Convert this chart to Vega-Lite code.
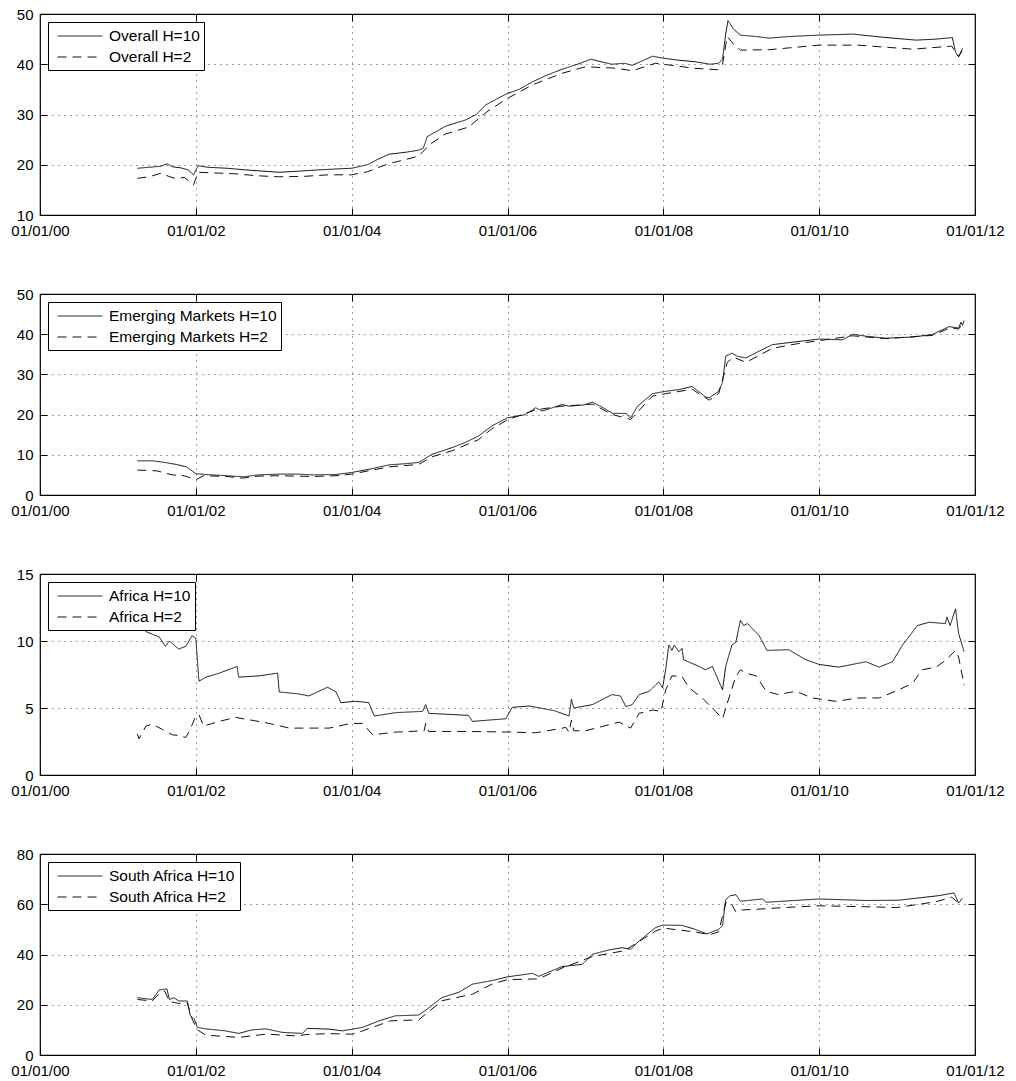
{
  "$schema": "https://vega.github.io/schema/vega-lite/v6.json",
  "padding": {"left": 10, "top": 6, "right": 5, "bottom": 5},
  "background": "white",
  "spacing": 79,
  "bounds": "flush",
  "config": {
    "view": {"stroke": "#000", "strokeWidth": 1.2},
    "font": "Liberation Sans",
    "axis": {"labelFont": "Liberation Sans", "labelFontSize": 15, "labelColor": "#000", "title": null, "domain": false, "tickColor": "#000", "tickSize": -7, "tickWidth": 1, "gridColor": "#000", "gridDash": [1, 5], "gridOpacity": 0.75, "gridWidth": 1, "labelOverlap": false, "labelFlush": false},
    "legend": {"title": null, "orient": "top-left", "offset": 8, "fillColor": "#fff", "strokeColor": "#000", "padding": 4, "symbolType": "M-0.47,0H4.26", "symbolSize": 361, "symbolStrokeWidth": 1, "symbolStrokeColor": "#111", "labelFont": "Liberation Sans", "labelFontSize": 15.5, "labelColor": "#000", "labelOffset": 37, "rowPadding": 2, "labelLimit": 400, "cornerRadius": 0}
  },
  "resolve": {"scale": {"y": "independent", "strokeDash": "independent"}, "legend": {"strokeDash": "independent"}},
  "datasets": {
    "overall": [
      {"series": "Overall H=10", "year": 2001.25, "value": 19.3},
      {"series": "Overall H=10", "year": 2001.40, "value": 19.5},
      {"series": "Overall H=10", "year": 2001.55, "value": 19.7},
      {"series": "Overall H=10", "year": 2001.63, "value": 20.2},
      {"series": "Overall H=10", "year": 2001.70, "value": 19.6},
      {"series": "Overall H=10", "year": 2001.80, "value": 19.4},
      {"series": "Overall H=10", "year": 2001.90, "value": 19.0},
      {"series": "Overall H=10", "year": 2001.97, "value": 18.0},
      {"series": "Overall H=10", "year": 2002.03, "value": 19.8},
      {"series": "Overall H=10", "year": 2002.15, "value": 19.5},
      {"series": "Overall H=10", "year": 2002.40, "value": 19.3},
      {"series": "Overall H=10", "year": 2002.70, "value": 18.9},
      {"series": "Overall H=10", "year": 2003.07, "value": 18.5},
      {"series": "Overall H=10", "year": 2003.30, "value": 18.7},
      {"series": "Overall H=10", "year": 2003.60, "value": 19.0},
      {"series": "Overall H=10", "year": 2003.85, "value": 19.2},
      {"series": "Overall H=10", "year": 2004.00, "value": 19.3},
      {"series": "Overall H=10", "year": 2004.20, "value": 20.0},
      {"series": "Overall H=10", "year": 2004.35, "value": 21.2},
      {"series": "Overall H=10", "year": 2004.48, "value": 22.1},
      {"series": "Overall H=10", "year": 2004.70, "value": 22.5},
      {"series": "Overall H=10", "year": 2004.86, "value": 22.9},
      {"series": "Overall H=10", "year": 2004.92, "value": 23.3},
      {"series": "Overall H=10", "year": 2004.97, "value": 25.6},
      {"series": "Overall H=10", "year": 2005.21, "value": 27.7},
      {"series": "Overall H=10", "year": 2005.46, "value": 28.9},
      {"series": "Overall H=10", "year": 2005.60, "value": 30.0},
      {"series": "Overall H=10", "year": 2005.72, "value": 31.9},
      {"series": "Overall H=10", "year": 2005.85, "value": 33.0},
      {"series": "Overall H=10", "year": 2006.00, "value": 34.2},
      {"series": "Overall H=10", "year": 2006.15, "value": 35.0},
      {"series": "Overall H=10", "year": 2006.32, "value": 36.5},
      {"series": "Overall H=10", "year": 2006.50, "value": 37.8},
      {"series": "Overall H=10", "year": 2006.70, "value": 39.0},
      {"series": "Overall H=10", "year": 2006.90, "value": 40.0},
      {"series": "Overall H=10", "year": 2007.07, "value": 41.0},
      {"series": "Overall H=10", "year": 2007.20, "value": 40.5},
      {"series": "Overall H=10", "year": 2007.34, "value": 40.0},
      {"series": "Overall H=10", "year": 2007.50, "value": 40.2},
      {"series": "Overall H=10", "year": 2007.60, "value": 39.8},
      {"series": "Overall H=10", "year": 2007.75, "value": 40.8},
      {"series": "Overall H=10", "year": 2007.86, "value": 41.6},
      {"series": "Overall H=10", "year": 2008.00, "value": 41.2},
      {"series": "Overall H=10", "year": 2008.20, "value": 40.8},
      {"series": "Overall H=10", "year": 2008.41, "value": 40.5},
      {"series": "Overall H=10", "year": 2008.60, "value": 40.0},
      {"series": "Overall H=10", "year": 2008.71, "value": 40.2},
      {"series": "Overall H=10", "year": 2008.76, "value": 41.0},
      {"series": "Overall H=10", "year": 2008.80, "value": 46.0},
      {"series": "Overall H=10", "year": 2008.83, "value": 48.7},
      {"series": "Overall H=10", "year": 2008.90, "value": 47.0},
      {"series": "Overall H=10", "year": 2008.99, "value": 45.8},
      {"series": "Overall H=10", "year": 2009.20, "value": 45.5},
      {"series": "Overall H=10", "year": 2009.36, "value": 45.2},
      {"series": "Overall H=10", "year": 2009.60, "value": 45.5},
      {"series": "Overall H=10", "year": 2010.00, "value": 45.8},
      {"series": "Overall H=10", "year": 2010.43, "value": 46.0},
      {"series": "Overall H=10", "year": 2010.80, "value": 45.4},
      {"series": "Overall H=10", "year": 2011.24, "value": 44.8},
      {"series": "Overall H=10", "year": 2011.50, "value": 45.0},
      {"series": "Overall H=10", "year": 2011.71, "value": 45.3},
      {"series": "Overall H=10", "year": 2011.75, "value": 42.4},
      {"series": "Overall H=10", "year": 2011.79, "value": 41.5},
      {"series": "Overall H=10", "year": 2011.84, "value": 43.2},
      {"series": "Overall H=2", "year": 2001.25, "value": 17.3},
      {"series": "Overall H=2", "year": 2001.40, "value": 17.6},
      {"series": "Overall H=2", "year": 2001.55, "value": 18.3},
      {"series": "Overall H=2", "year": 2001.65, "value": 17.7},
      {"series": "Overall H=2", "year": 2001.75, "value": 17.2},
      {"series": "Overall H=2", "year": 2001.85, "value": 17.5},
      {"series": "Overall H=2", "year": 2001.97, "value": 16.0},
      {"series": "Overall H=2", "year": 2002.03, "value": 18.5},
      {"series": "Overall H=2", "year": 2002.20, "value": 18.4},
      {"series": "Overall H=2", "year": 2002.50, "value": 18.2},
      {"series": "Overall H=2", "year": 2002.80, "value": 17.8},
      {"series": "Overall H=2", "year": 2003.07, "value": 17.6},
      {"series": "Overall H=2", "year": 2003.40, "value": 17.7},
      {"series": "Overall H=2", "year": 2003.70, "value": 18.0},
      {"series": "Overall H=2", "year": 2004.00, "value": 18.0},
      {"series": "Overall H=2", "year": 2004.20, "value": 18.6},
      {"series": "Overall H=2", "year": 2004.35, "value": 19.5},
      {"series": "Overall H=2", "year": 2004.50, "value": 20.3},
      {"series": "Overall H=2", "year": 2004.86, "value": 21.7},
      {"series": "Overall H=2", "year": 2005.00, "value": 24.0},
      {"series": "Overall H=2", "year": 2005.20, "value": 26.1},
      {"series": "Overall H=2", "year": 2005.50, "value": 27.5},
      {"series": "Overall H=2", "year": 2005.75, "value": 30.7},
      {"series": "Overall H=2", "year": 2006.00, "value": 33.2},
      {"series": "Overall H=2", "year": 2006.32, "value": 35.9},
      {"series": "Overall H=2", "year": 2006.70, "value": 38.2},
      {"series": "Overall H=2", "year": 2007.00, "value": 39.5},
      {"series": "Overall H=2", "year": 2007.40, "value": 39.2},
      {"series": "Overall H=2", "year": 2007.60, "value": 38.7},
      {"series": "Overall H=2", "year": 2007.90, "value": 40.2},
      {"series": "Overall H=2", "year": 2008.00, "value": 40.0},
      {"series": "Overall H=2", "year": 2008.40, "value": 39.2},
      {"series": "Overall H=2", "year": 2008.70, "value": 38.9},
      {"series": "Overall H=2", "year": 2008.76, "value": 40.0},
      {"series": "Overall H=2", "year": 2008.82, "value": 45.5},
      {"series": "Overall H=2", "year": 2008.90, "value": 44.0},
      {"series": "Overall H=2", "year": 2008.99, "value": 42.8},
      {"series": "Overall H=2", "year": 2009.36, "value": 42.9},
      {"series": "Overall H=2", "year": 2010.00, "value": 43.8},
      {"series": "Overall H=2", "year": 2010.50, "value": 43.8},
      {"series": "Overall H=2", "year": 2011.20, "value": 43.0},
      {"series": "Overall H=2", "year": 2011.70, "value": 43.6},
      {"series": "Overall H=2", "year": 2011.75, "value": 42.5},
      {"series": "Overall H=2", "year": 2011.79, "value": 41.5},
      {"series": "Overall H=2", "year": 2011.84, "value": 42.8}
    ],
    "em": [
      {"series": "Emerging Markets H=10", "year": 2001.25, "value": 8.5},
      {"series": "Emerging Markets H=10", "year": 2001.45, "value": 8.5},
      {"series": "Emerging Markets H=10", "year": 2001.60, "value": 8.1},
      {"series": "Emerging Markets H=10", "year": 2001.75, "value": 7.6},
      {"series": "Emerging Markets H=10", "year": 2001.88, "value": 7.0},
      {"series": "Emerging Markets H=10", "year": 2002.00, "value": 5.3},
      {"series": "Emerging Markets H=10", "year": 2002.20, "value": 5.0},
      {"series": "Emerging Markets H=10", "year": 2002.40, "value": 4.8},
      {"series": "Emerging Markets H=10", "year": 2002.60, "value": 4.5},
      {"series": "Emerging Markets H=10", "year": 2002.80, "value": 5.0},
      {"series": "Emerging Markets H=10", "year": 2003.07, "value": 5.2},
      {"series": "Emerging Markets H=10", "year": 2003.30, "value": 5.2},
      {"series": "Emerging Markets H=10", "year": 2003.50, "value": 5.0},
      {"series": "Emerging Markets H=10", "year": 2003.80, "value": 5.1},
      {"series": "Emerging Markets H=10", "year": 2004.00, "value": 5.6},
      {"series": "Emerging Markets H=10", "year": 2004.25, "value": 6.5},
      {"series": "Emerging Markets H=10", "year": 2004.48, "value": 7.5},
      {"series": "Emerging Markets H=10", "year": 2004.70, "value": 7.8},
      {"series": "Emerging Markets H=10", "year": 2004.86, "value": 8.1},
      {"series": "Emerging Markets H=10", "year": 2005.03, "value": 10.1},
      {"series": "Emerging Markets H=10", "year": 2005.29, "value": 11.8},
      {"series": "Emerging Markets H=10", "year": 2005.45, "value": 13.0},
      {"series": "Emerging Markets H=10", "year": 2005.63, "value": 14.7},
      {"series": "Emerging Markets H=10", "year": 2005.80, "value": 17.2},
      {"series": "Emerging Markets H=10", "year": 2006.00, "value": 19.2},
      {"series": "Emerging Markets H=10", "year": 2006.23, "value": 20.0},
      {"series": "Emerging Markets H=10", "year": 2006.36, "value": 21.7},
      {"series": "Emerging Markets H=10", "year": 2006.45, "value": 20.9},
      {"series": "Emerging Markets H=10", "year": 2006.70, "value": 22.5},
      {"series": "Emerging Markets H=10", "year": 2006.79, "value": 22.1},
      {"series": "Emerging Markets H=10", "year": 2006.98, "value": 22.4},
      {"series": "Emerging Markets H=10", "year": 2007.09, "value": 23.1},
      {"series": "Emerging Markets H=10", "year": 2007.20, "value": 22.0},
      {"series": "Emerging Markets H=10", "year": 2007.35, "value": 20.3},
      {"series": "Emerging Markets H=10", "year": 2007.52, "value": 20.3},
      {"series": "Emerging Markets H=10", "year": 2007.58, "value": 19.2},
      {"series": "Emerging Markets H=10", "year": 2007.67, "value": 22.1},
      {"series": "Emerging Markets H=10", "year": 2007.86, "value": 25.2},
      {"series": "Emerging Markets H=10", "year": 2008.03, "value": 25.8},
      {"series": "Emerging Markets H=10", "year": 2008.20, "value": 26.2},
      {"series": "Emerging Markets H=10", "year": 2008.37, "value": 27.0},
      {"series": "Emerging Markets H=10", "year": 2008.54, "value": 24.4},
      {"series": "Emerging Markets H=10", "year": 2008.59, "value": 24.2},
      {"series": "Emerging Markets H=10", "year": 2008.71, "value": 25.8},
      {"series": "Emerging Markets H=10", "year": 2008.76, "value": 28.0},
      {"series": "Emerging Markets H=10", "year": 2008.80, "value": 34.5},
      {"series": "Emerging Markets H=10", "year": 2008.88, "value": 35.3},
      {"series": "Emerging Markets H=10", "year": 2008.95, "value": 34.5},
      {"series": "Emerging Markets H=10", "year": 2009.06, "value": 34.1},
      {"series": "Emerging Markets H=10", "year": 2009.20, "value": 35.5},
      {"series": "Emerging Markets H=10", "year": 2009.40, "value": 37.4},
      {"series": "Emerging Markets H=10", "year": 2009.74, "value": 38.2},
      {"series": "Emerging Markets H=10", "year": 2010.00, "value": 38.8},
      {"series": "Emerging Markets H=10", "year": 2010.30, "value": 38.6},
      {"series": "Emerging Markets H=10", "year": 2010.43, "value": 40.0},
      {"series": "Emerging Markets H=10", "year": 2010.60, "value": 39.5},
      {"series": "Emerging Markets H=10", "year": 2010.85, "value": 39.0},
      {"series": "Emerging Markets H=10", "year": 2011.20, "value": 39.3},
      {"series": "Emerging Markets H=10", "year": 2011.45, "value": 39.9},
      {"series": "Emerging Markets H=10", "year": 2011.67, "value": 41.9},
      {"series": "Emerging Markets H=10", "year": 2011.79, "value": 41.5},
      {"series": "Emerging Markets H=10", "year": 2011.82, "value": 43.0},
      {"series": "Emerging Markets H=10", "year": 2011.84, "value": 42.2},
      {"series": "Emerging Markets H=10", "year": 2011.86, "value": 43.4},
      {"series": "Emerging Markets H=2", "year": 2001.25, "value": 6.2},
      {"series": "Emerging Markets H=2", "year": 2001.50, "value": 6.0},
      {"series": "Emerging Markets H=2", "year": 2001.70, "value": 5.0},
      {"series": "Emerging Markets H=2", "year": 2001.85, "value": 4.8},
      {"series": "Emerging Markets H=2", "year": 2002.00, "value": 3.8},
      {"series": "Emerging Markets H=2", "year": 2002.10, "value": 4.8},
      {"series": "Emerging Markets H=2", "year": 2002.40, "value": 4.6},
      {"series": "Emerging Markets H=2", "year": 2002.60, "value": 4.2},
      {"series": "Emerging Markets H=2", "year": 2002.80, "value": 4.7},
      {"series": "Emerging Markets H=2", "year": 2003.07, "value": 4.8},
      {"series": "Emerging Markets H=2", "year": 2003.50, "value": 4.6},
      {"series": "Emerging Markets H=2", "year": 2003.80, "value": 4.8},
      {"series": "Emerging Markets H=2", "year": 2004.00, "value": 5.2},
      {"series": "Emerging Markets H=2", "year": 2004.48, "value": 7.0},
      {"series": "Emerging Markets H=2", "year": 2004.86, "value": 7.6},
      {"series": "Emerging Markets H=2", "year": 2005.03, "value": 9.5},
      {"series": "Emerging Markets H=2", "year": 2005.29, "value": 11.0},
      {"series": "Emerging Markets H=2", "year": 2005.63, "value": 13.8},
      {"series": "Emerging Markets H=2", "year": 2005.80, "value": 16.5},
      {"series": "Emerging Markets H=2", "year": 2006.00, "value": 18.7},
      {"series": "Emerging Markets H=2", "year": 2006.36, "value": 21.2},
      {"series": "Emerging Markets H=2", "year": 2006.70, "value": 22.1},
      {"series": "Emerging Markets H=2", "year": 2007.09, "value": 22.6},
      {"series": "Emerging Markets H=2", "year": 2007.35, "value": 20.0},
      {"series": "Emerging Markets H=2", "year": 2007.58, "value": 18.8},
      {"series": "Emerging Markets H=2", "year": 2007.86, "value": 24.6},
      {"series": "Emerging Markets H=2", "year": 2008.03, "value": 25.2},
      {"series": "Emerging Markets H=2", "year": 2008.37, "value": 26.3},
      {"series": "Emerging Markets H=2", "year": 2008.59, "value": 23.6},
      {"series": "Emerging Markets H=2", "year": 2008.71, "value": 25.2},
      {"series": "Emerging Markets H=2", "year": 2008.82, "value": 33.0},
      {"series": "Emerging Markets H=2", "year": 2008.90, "value": 34.3},
      {"series": "Emerging Markets H=2", "year": 2009.06, "value": 33.0},
      {"series": "Emerging Markets H=2", "year": 2009.40, "value": 36.5},
      {"series": "Emerging Markets H=2", "year": 2009.74, "value": 37.7},
      {"series": "Emerging Markets H=2", "year": 2010.00, "value": 38.4},
      {"series": "Emerging Markets H=2", "year": 2010.43, "value": 39.6},
      {"series": "Emerging Markets H=2", "year": 2010.85, "value": 38.9},
      {"series": "Emerging Markets H=2", "year": 2011.45, "value": 39.7},
      {"series": "Emerging Markets H=2", "year": 2011.67, "value": 41.5},
      {"series": "Emerging Markets H=2", "year": 2011.79, "value": 41.3},
      {"series": "Emerging Markets H=2", "year": 2011.86, "value": 43.0}
    ],
    "africa": [
      {"series": "Africa H=10", "year": 2001.25, "value": 11.4},
      {"series": "Africa H=10", "year": 2001.36, "value": 10.7},
      {"series": "Africa H=10", "year": 2001.53, "value": 10.3},
      {"series": "Africa H=10", "year": 2001.61, "value": 9.6},
      {"series": "Africa H=10", "year": 2001.66, "value": 10.0},
      {"series": "Africa H=10", "year": 2001.70, "value": 9.8},
      {"series": "Africa H=10", "year": 2001.78, "value": 9.4},
      {"series": "Africa H=10", "year": 2001.87, "value": 9.6},
      {"series": "Africa H=10", "year": 2001.95, "value": 10.4},
      {"series": "Africa H=10", "year": 2002.00, "value": 10.2},
      {"series": "Africa H=10", "year": 2002.04, "value": 7.0},
      {"series": "Africa H=10", "year": 2002.13, "value": 7.3},
      {"series": "Africa H=10", "year": 2002.30, "value": 7.6},
      {"series": "Africa H=10", "year": 2002.53, "value": 8.1},
      {"series": "Africa H=10", "year": 2002.55, "value": 7.3},
      {"series": "Africa H=10", "year": 2002.81, "value": 7.4},
      {"series": "Africa H=10", "year": 2003.05, "value": 7.6},
      {"series": "Africa H=10", "year": 2003.07, "value": 6.2},
      {"series": "Africa H=10", "year": 2003.32, "value": 6.05},
      {"series": "Africa H=10", "year": 2003.45, "value": 5.9},
      {"series": "Africa H=10", "year": 2003.69, "value": 6.55},
      {"series": "Africa H=10", "year": 2003.80, "value": 6.2},
      {"series": "Africa H=10", "year": 2003.86, "value": 5.4},
      {"series": "Africa H=10", "year": 2004.05, "value": 5.5},
      {"series": "Africa H=10", "year": 2004.22, "value": 5.4},
      {"series": "Africa H=10", "year": 2004.29, "value": 4.4},
      {"series": "Africa H=10", "year": 2004.56, "value": 4.65},
      {"series": "Africa H=10", "year": 2004.91, "value": 4.75},
      {"series": "Africa H=10", "year": 2004.95, "value": 5.25},
      {"series": "Africa H=10", "year": 2004.99, "value": 4.6},
      {"series": "Africa H=10", "year": 2005.50, "value": 4.45},
      {"series": "Africa H=10", "year": 2005.55, "value": 4.0},
      {"series": "Africa H=10", "year": 2005.98, "value": 4.2},
      {"series": "Africa H=10", "year": 2006.06, "value": 5.05},
      {"series": "Africa H=10", "year": 2006.28, "value": 5.15},
      {"series": "Africa H=10", "year": 2006.60, "value": 4.8},
      {"series": "Africa H=10", "year": 2006.79, "value": 4.4},
      {"series": "Africa H=10", "year": 2006.82, "value": 5.65},
      {"series": "Africa H=10", "year": 2006.85, "value": 5.0},
      {"series": "Africa H=10", "year": 2007.09, "value": 5.25},
      {"series": "Africa H=10", "year": 2007.34, "value": 6.0},
      {"series": "Africa H=10", "year": 2007.45, "value": 5.9},
      {"series": "Africa H=10", "year": 2007.52, "value": 5.1},
      {"series": "Africa H=10", "year": 2007.60, "value": 5.25},
      {"series": "Africa H=10", "year": 2007.69, "value": 6.0},
      {"series": "Africa H=10", "year": 2007.82, "value": 6.25},
      {"series": "Africa H=10", "year": 2007.94, "value": 6.95},
      {"series": "Africa H=10", "year": 2007.99, "value": 6.5},
      {"series": "Africa H=10", "year": 2008.03, "value": 7.85},
      {"series": "Africa H=10", "year": 2008.07, "value": 9.7},
      {"series": "Africa H=10", "year": 2008.11, "value": 9.3},
      {"series": "Africa H=10", "year": 2008.14, "value": 9.7},
      {"series": "Africa H=10", "year": 2008.20, "value": 9.2},
      {"series": "Africa H=10", "year": 2008.24, "value": 9.45},
      {"series": "Africa H=10", "year": 2008.26, "value": 8.6},
      {"series": "Africa H=10", "year": 2008.46, "value": 8.1},
      {"series": "Africa H=10", "year": 2008.54, "value": 7.85},
      {"series": "Africa H=10", "year": 2008.63, "value": 8.1},
      {"series": "Africa H=10", "year": 2008.76, "value": 6.35},
      {"series": "Africa H=10", "year": 2008.80, "value": 8.1},
      {"series": "Africa H=10", "year": 2008.88, "value": 9.7},
      {"series": "Africa H=10", "year": 2008.93, "value": 9.9},
      {"series": "Africa H=10", "year": 2008.99, "value": 11.55},
      {"series": "Africa H=10", "year": 2009.03, "value": 11.15},
      {"series": "Africa H=10", "year": 2009.08, "value": 11.3},
      {"series": "Africa H=10", "year": 2009.23, "value": 10.4},
      {"series": "Africa H=10", "year": 2009.33, "value": 9.3},
      {"series": "Africa H=10", "year": 2009.61, "value": 9.35},
      {"series": "Africa H=10", "year": 2009.83, "value": 8.6},
      {"series": "Africa H=10", "year": 2010.00, "value": 8.25},
      {"series": "Africa H=10", "year": 2010.25, "value": 8.05},
      {"series": "Africa H=10", "year": 2010.60, "value": 8.45},
      {"series": "Africa H=10", "year": 2010.77, "value": 8.05},
      {"series": "Africa H=10", "year": 2010.94, "value": 8.45},
      {"series": "Africa H=10", "year": 2011.07, "value": 9.7},
      {"series": "Africa H=10", "year": 2011.15, "value": 10.3},
      {"series": "Africa H=10", "year": 2011.26, "value": 11.15},
      {"series": "Africa H=10", "year": 2011.41, "value": 11.4},
      {"series": "Africa H=10", "year": 2011.62, "value": 11.3},
      {"series": "Africa H=10", "year": 2011.64, "value": 11.8},
      {"series": "Africa H=10", "year": 2011.68, "value": 11.15},
      {"series": "Africa H=10", "year": 2011.75, "value": 12.4},
      {"series": "Africa H=10", "year": 2011.79, "value": 10.55},
      {"series": "Africa H=10", "year": 2011.86, "value": 9.2},
      {"series": "Africa H=2", "year": 2001.25, "value": 3.05},
      {"series": "Africa H=2", "year": 2001.27, "value": 2.7},
      {"series": "Africa H=2", "year": 2001.36, "value": 3.65},
      {"series": "Africa H=2", "year": 2001.44, "value": 3.8},
      {"series": "Africa H=2", "year": 2001.57, "value": 3.4},
      {"series": "Africa H=2", "year": 2001.70, "value": 3.0},
      {"series": "Africa H=2", "year": 2001.78, "value": 2.95},
      {"series": "Africa H=2", "year": 2001.87, "value": 2.8},
      {"series": "Africa H=2", "year": 2001.92, "value": 3.3},
      {"series": "Africa H=2", "year": 2002.00, "value": 4.4},
      {"series": "Africa H=2", "year": 2002.04, "value": 4.5},
      {"series": "Africa H=2", "year": 2002.10, "value": 3.65},
      {"series": "Africa H=2", "year": 2002.30, "value": 4.0},
      {"series": "Africa H=2", "year": 2002.51, "value": 4.3},
      {"series": "Africa H=2", "year": 2002.90, "value": 3.9},
      {"series": "Africa H=2", "year": 2003.20, "value": 3.5},
      {"series": "Africa H=2", "year": 2003.71, "value": 3.5},
      {"series": "Africa H=2", "year": 2003.99, "value": 3.85},
      {"series": "Africa H=2", "year": 2004.14, "value": 3.85},
      {"series": "Africa H=2", "year": 2004.27, "value": 3.0},
      {"series": "Africa H=2", "year": 2004.56, "value": 3.2},
      {"series": "Africa H=2", "year": 2004.93, "value": 3.3},
      {"series": "Africa H=2", "year": 2004.95, "value": 3.85},
      {"series": "Africa H=2", "year": 2004.99, "value": 3.25},
      {"series": "Africa H=2", "year": 2005.50, "value": 3.25},
      {"series": "Africa H=2", "year": 2006.06, "value": 3.2},
      {"series": "Africa H=2", "year": 2006.36, "value": 3.15},
      {"series": "Africa H=2", "year": 2006.66, "value": 3.45},
      {"series": "Africa H=2", "year": 2006.75, "value": 3.55},
      {"series": "Africa H=2", "year": 2006.79, "value": 3.2},
      {"series": "Africa H=2", "year": 2006.82, "value": 4.1},
      {"series": "Africa H=2", "year": 2006.85, "value": 3.3},
      {"series": "Africa H=2", "year": 2007.00, "value": 3.3},
      {"series": "Africa H=2", "year": 2007.30, "value": 3.75},
      {"series": "Africa H=2", "year": 2007.43, "value": 3.95},
      {"series": "Africa H=2", "year": 2007.58, "value": 3.5},
      {"series": "Africa H=2", "year": 2007.69, "value": 4.6},
      {"series": "Africa H=2", "year": 2007.86, "value": 4.85},
      {"series": "Africa H=2", "year": 2007.97, "value": 4.75},
      {"series": "Africa H=2", "year": 2008.03, "value": 6.35},
      {"series": "Africa H=2", "year": 2008.11, "value": 7.4},
      {"series": "Africa H=2", "year": 2008.24, "value": 7.35},
      {"series": "Africa H=2", "year": 2008.33, "value": 6.5},
      {"series": "Africa H=2", "year": 2008.50, "value": 5.75},
      {"series": "Africa H=2", "year": 2008.67, "value": 4.75},
      {"series": "Africa H=2", "year": 2008.76, "value": 4.2},
      {"series": "Africa H=2", "year": 2008.82, "value": 5.35},
      {"series": "Africa H=2", "year": 2008.93, "value": 7.35},
      {"series": "Africa H=2", "year": 2008.99, "value": 7.85},
      {"series": "Africa H=2", "year": 2009.06, "value": 7.6},
      {"series": "Africa H=2", "year": 2009.19, "value": 7.4},
      {"series": "Africa H=2", "year": 2009.32, "value": 6.25},
      {"series": "Africa H=2", "year": 2009.48, "value": 6.0},
      {"series": "Africa H=2", "year": 2009.70, "value": 6.25},
      {"series": "Africa H=2", "year": 2009.91, "value": 5.75},
      {"series": "Africa H=2", "year": 2010.21, "value": 5.5},
      {"series": "Africa H=2", "year": 2010.51, "value": 5.75},
      {"series": "Africa H=2", "year": 2010.77, "value": 5.75},
      {"series": "Africa H=2", "year": 2011.02, "value": 6.35},
      {"series": "Africa H=2", "year": 2011.20, "value": 6.85},
      {"series": "Africa H=2", "year": 2011.32, "value": 7.85},
      {"series": "Africa H=2", "year": 2011.50, "value": 8.05},
      {"series": "Africa H=2", "year": 2011.62, "value": 8.55},
      {"series": "Africa H=2", "year": 2011.75, "value": 9.3},
      {"series": "Africa H=2", "year": 2011.79, "value": 8.8},
      {"series": "Africa H=2", "year": 2011.86, "value": 6.7}
    ],
    "sa": [
      {"series": "South Africa H=10", "year": 2001.25, "value": 22.8},
      {"series": "South Africa H=10", "year": 2001.44, "value": 22.1},
      {"series": "South Africa H=10", "year": 2001.49, "value": 24.1},
      {"series": "South Africa H=10", "year": 2001.53, "value": 25.9},
      {"series": "South Africa H=10", "year": 2001.63, "value": 26.3},
      {"series": "South Africa H=10", "year": 2001.66, "value": 22.1},
      {"series": "South Africa H=10", "year": 2001.72, "value": 22.8},
      {"series": "South Africa H=10", "year": 2001.78, "value": 21.5},
      {"series": "South Africa H=10", "year": 2001.89, "value": 21.5},
      {"series": "South Africa H=10", "year": 2001.93, "value": 15.6},
      {"series": "South Africa H=10", "year": 2001.98, "value": 14.3},
      {"series": "South Africa H=10", "year": 2002.02, "value": 11.0},
      {"series": "South Africa H=10", "year": 2002.13, "value": 10.4},
      {"series": "South Africa H=10", "year": 2002.38, "value": 9.6},
      {"series": "South Africa H=10", "year": 2002.55, "value": 8.6},
      {"series": "South Africa H=10", "year": 2002.72, "value": 10.0},
      {"series": "South Africa H=10", "year": 2002.90, "value": 10.4},
      {"series": "South Africa H=10", "year": 2003.11, "value": 9.0},
      {"series": "South Africa H=10", "year": 2003.37, "value": 8.6},
      {"series": "South Africa H=10", "year": 2003.43, "value": 10.6},
      {"series": "South Africa H=10", "year": 2003.71, "value": 10.3},
      {"series": "South Africa H=10", "year": 2003.88, "value": 9.6},
      {"series": "South Africa H=10", "year": 2004.14, "value": 11.0},
      {"series": "South Africa H=10", "year": 2004.35, "value": 13.6},
      {"series": "South Africa H=10", "year": 2004.56, "value": 15.6},
      {"series": "South Africa H=10", "year": 2004.86, "value": 15.9},
      {"series": "South Africa H=10", "year": 2004.97, "value": 18.3},
      {"series": "South Africa H=10", "year": 2005.16, "value": 22.9},
      {"series": "South Africa H=10", "year": 2005.37, "value": 24.9},
      {"series": "South Africa H=10", "year": 2005.55, "value": 28.2},
      {"series": "South Africa H=10", "year": 2005.80, "value": 29.6},
      {"series": "South Africa H=10", "year": 2006.00, "value": 31.1},
      {"series": "South Africa H=10", "year": 2006.32, "value": 32.5},
      {"series": "South Africa H=10", "year": 2006.40, "value": 31.3},
      {"series": "South Africa H=10", "year": 2006.70, "value": 35.2},
      {"series": "South Africa H=10", "year": 2006.96, "value": 36.1},
      {"series": "South Africa H=10", "year": 2007.09, "value": 40.1},
      {"series": "South Africa H=10", "year": 2007.30, "value": 41.8},
      {"series": "South Africa H=10", "year": 2007.47, "value": 42.7},
      {"series": "South Africa H=10", "year": 2007.58, "value": 42.1},
      {"series": "South Africa H=10", "year": 2007.69, "value": 45.4},
      {"series": "South Africa H=10", "year": 2007.90, "value": 50.7},
      {"series": "South Africa H=10", "year": 2007.99, "value": 51.7},
      {"series": "South Africa H=10", "year": 2008.24, "value": 51.6},
      {"series": "South Africa H=10", "year": 2008.41, "value": 50.0},
      {"series": "South Africa H=10", "year": 2008.56, "value": 48.2},
      {"series": "South Africa H=10", "year": 2008.71, "value": 50.0},
      {"series": "South Africa H=10", "year": 2008.76, "value": 51.5},
      {"series": "South Africa H=10", "year": 2008.80, "value": 61.8},
      {"series": "South Africa H=10", "year": 2008.86, "value": 63.4},
      {"series": "South Africa H=10", "year": 2008.93, "value": 63.8},
      {"series": "South Africa H=10", "year": 2008.99, "value": 61.2},
      {"series": "South Africa H=10", "year": 2009.27, "value": 62.1},
      {"series": "South Africa H=10", "year": 2009.32, "value": 60.8},
      {"series": "South Africa H=10", "year": 2010.00, "value": 62.1},
      {"series": "South Africa H=10", "year": 2010.60, "value": 61.5},
      {"series": "South Africa H=10", "year": 2011.02, "value": 61.6},
      {"series": "South Africa H=10", "year": 2011.53, "value": 63.4},
      {"series": "South Africa H=10", "year": 2011.73, "value": 64.5},
      {"series": "South Africa H=10", "year": 2011.79, "value": 60.5},
      {"series": "South Africa H=10", "year": 2011.84, "value": 62.5},
      {"series": "South Africa H=2", "year": 2001.25, "value": 22.1},
      {"series": "South Africa H=2", "year": 2001.44, "value": 21.5},
      {"series": "South Africa H=2", "year": 2001.50, "value": 23.5},
      {"series": "South Africa H=2", "year": 2001.60, "value": 25.5},
      {"series": "South Africa H=2", "year": 2001.66, "value": 21.3},
      {"series": "South Africa H=2", "year": 2001.78, "value": 20.5},
      {"series": "South Africa H=2", "year": 2001.89, "value": 20.8},
      {"series": "South Africa H=2", "year": 2001.95, "value": 14.5},
      {"series": "South Africa H=2", "year": 2002.02, "value": 10.0},
      {"series": "South Africa H=2", "year": 2002.13, "value": 7.9},
      {"series": "South Africa H=2", "year": 2002.55, "value": 7.0},
      {"series": "South Africa H=2", "year": 2002.90, "value": 8.3},
      {"series": "South Africa H=2", "year": 2003.30, "value": 7.6},
      {"series": "South Africa H=2", "year": 2003.43, "value": 8.2},
      {"series": "South Africa H=2", "year": 2003.71, "value": 8.5},
      {"series": "South Africa H=2", "year": 2004.00, "value": 8.3},
      {"series": "South Africa H=2", "year": 2004.14, "value": 9.6},
      {"series": "South Africa H=2", "year": 2004.50, "value": 13.6},
      {"series": "South Africa H=2", "year": 2004.86, "value": 14.0},
      {"series": "South Africa H=2", "year": 2004.97, "value": 16.8},
      {"series": "South Africa H=2", "year": 2005.16, "value": 21.6},
      {"series": "South Africa H=2", "year": 2005.55, "value": 24.2},
      {"series": "South Africa H=2", "year": 2005.80, "value": 28.2},
      {"series": "South Africa H=2", "year": 2006.00, "value": 30.0},
      {"series": "South Africa H=2", "year": 2006.40, "value": 30.3},
      {"series": "South Africa H=2", "year": 2006.70, "value": 34.6},
      {"series": "South Africa H=2", "year": 2007.09, "value": 39.2},
      {"series": "South Africa H=2", "year": 2007.50, "value": 41.5},
      {"series": "South Africa H=2", "year": 2007.90, "value": 49.3},
      {"series": "South Africa H=2", "year": 2008.00, "value": 50.5},
      {"series": "South Africa H=2", "year": 2008.40, "value": 49.0},
      {"series": "South Africa H=2", "year": 2008.60, "value": 47.9},
      {"series": "South Africa H=2", "year": 2008.71, "value": 49.0},
      {"series": "South Africa H=2", "year": 2008.80, "value": 60.5},
      {"series": "South Africa H=2", "year": 2008.86, "value": 61.0},
      {"series": "South Africa H=2", "year": 2008.93, "value": 57.0},
      {"series": "South Africa H=2", "year": 2009.00, "value": 57.7},
      {"series": "South Africa H=2", "year": 2009.20, "value": 58.0},
      {"series": "South Africa H=2", "year": 2009.50, "value": 58.6},
      {"series": "South Africa H=2", "year": 2010.00, "value": 59.4},
      {"series": "South Africa H=2", "year": 2010.60, "value": 59.0},
      {"series": "South Africa H=2", "year": 2011.00, "value": 58.7},
      {"series": "South Africa H=2", "year": 2011.50, "value": 61.0},
      {"series": "South Africa H=2", "year": 2011.70, "value": 62.8},
      {"series": "South Africa H=2", "year": 2011.79, "value": 60.5},
      {"series": "South Africa H=2", "year": 2011.84, "value": 61.5}
    ]
  },
  "vconcat": [
    {
      "width": 935, "height": 201,
      "data": {"name": "overall"},
      "layer": [
        {
          "mark": {"type": "line", "stroke": "#111", "strokeWidth": 1},
          "encoding": {
            "x": {"field": "year", "type": "quantitative", "scale": {"domain": [2000, 2012], "nice": false, "zero": false}, "axis": {"values": [2000, 2002, 2004, 2006, 2008, 2010, 2012], "labelExpr": "'01/01/' + (datum.value % 100 < 10 ? '0' : '') + (datum.value % 100)", "grid": true, "labelPadding": 15}},
            "y": {"field": "value", "type": "quantitative", "scale": {"domain": [10, 50], "nice": false, "zero": false}, "axis": {"values": [10, 20, 30, 40, 50], "grid": true, "labelPadding": 14}},
            "strokeDash": {"field": "series", "type": "nominal", "scale": {"domain": ["Overall H=10", "Overall H=2"], "range": [[1, 0], [9, 6]]}}
          }
        },
        {
          "mark": {"type": "line", "strokeOpacity": 0},
          "encoding": {
            "x": {"field": "year", "type": "quantitative", "axis": {"orient": "top", "values": [2002, 2004, 2006, 2008, 2010], "labels": false, "grid": false}},
            "y": {"field": "value", "type": "quantitative", "axis": {"orient": "right", "values": [20, 30, 40], "labels": false, "grid": false}},
            "detail": {"field": "series"}
          }
        }
      ],
      "resolve": {"axis": {"x": "independent", "y": "independent"}}
    },
    {
      "width": 935, "height": 201,
      "data": {"name": "em"},
      "layer": [
        {
          "mark": {"type": "line", "stroke": "#111", "strokeWidth": 1},
          "encoding": {
            "x": {"field": "year", "type": "quantitative", "scale": {"domain": [2000, 2012], "nice": false, "zero": false}, "axis": {"values": [2000, 2002, 2004, 2006, 2008, 2010, 2012], "labelExpr": "'01/01/' + (datum.value % 100 < 10 ? '0' : '') + (datum.value % 100)", "grid": true, "labelPadding": 15}},
            "y": {"field": "value", "type": "quantitative", "scale": {"domain": [0, 50], "nice": false, "zero": false}, "axis": {"values": [0, 10, 20, 30, 40, 50], "grid": true, "labelPadding": 14}},
            "strokeDash": {"field": "series", "type": "nominal", "scale": {"domain": ["Emerging Markets H=10", "Emerging Markets H=2"], "range": [[1, 0], [9, 6]]}}
          }
        },
        {
          "mark": {"type": "line", "strokeOpacity": 0},
          "encoding": {
            "x": {"field": "year", "type": "quantitative", "axis": {"orient": "top", "values": [2002, 2004, 2006, 2008, 2010], "labels": false, "grid": false}},
            "y": {"field": "value", "type": "quantitative", "axis": {"orient": "right", "values": [10, 20, 30, 40], "labels": false, "grid": false}},
            "detail": {"field": "series"}
          }
        }
      ],
      "resolve": {"axis": {"x": "independent", "y": "independent"}}
    },
    {
      "width": 935, "height": 201,
      "data": {"name": "africa"},
      "layer": [
        {
          "mark": {"type": "line", "stroke": "#111", "strokeWidth": 1},
          "encoding": {
            "x": {"field": "year", "type": "quantitative", "scale": {"domain": [2000, 2012], "nice": false, "zero": false}, "axis": {"values": [2000, 2002, 2004, 2006, 2008, 2010, 2012], "labelExpr": "'01/01/' + (datum.value % 100 < 10 ? '0' : '') + (datum.value % 100)", "grid": true, "labelPadding": 15}},
            "y": {"field": "value", "type": "quantitative", "scale": {"domain": [0, 15], "nice": false, "zero": false}, "axis": {"values": [0, 5, 10, 15], "grid": true, "labelPadding": 14}},
            "strokeDash": {"field": "series", "type": "nominal", "scale": {"domain": ["Africa H=10", "Africa H=2"], "range": [[1, 0], [9, 6]]}}
          }
        },
        {
          "mark": {"type": "line", "strokeOpacity": 0},
          "encoding": {
            "x": {"field": "year", "type": "quantitative", "axis": {"orient": "top", "values": [2002, 2004, 2006, 2008, 2010], "labels": false, "grid": false}},
            "y": {"field": "value", "type": "quantitative", "axis": {"orient": "right", "values": [5, 10], "labels": false, "grid": false}},
            "detail": {"field": "series"}
          }
        }
      ],
      "resolve": {"axis": {"x": "independent", "y": "independent"}}
    },
    {
      "width": 935, "height": 201,
      "data": {"name": "sa"},
      "layer": [
        {
          "mark": {"type": "line", "stroke": "#111", "strokeWidth": 1},
          "encoding": {
            "x": {"field": "year", "type": "quantitative", "scale": {"domain": [2000, 2012], "nice": false, "zero": false}, "axis": {"values": [2000, 2002, 2004, 2006, 2008, 2010, 2012], "labelExpr": "'01/01/' + (datum.value % 100 < 10 ? '0' : '') + (datum.value % 100)", "grid": true, "labelPadding": 15}},
            "y": {"field": "value", "type": "quantitative", "scale": {"domain": [0, 80], "nice": false, "zero": false}, "axis": {"values": [0, 20, 40, 60, 80], "grid": true, "labelPadding": 14}},
            "strokeDash": {"field": "series", "type": "nominal", "scale": {"domain": ["South Africa H=10", "South Africa H=2"], "range": [[1, 0], [9, 6]]}}
          }
        },
        {
          "mark": {"type": "line", "strokeOpacity": 0},
          "encoding": {
            "x": {"field": "year", "type": "quantitative", "axis": {"orient": "top", "values": [2002, 2004, 2006, 2008, 2010], "labels": false, "grid": false}},
            "y": {"field": "value", "type": "quantitative", "axis": {"orient": "right", "values": [20, 40, 60], "labels": false, "grid": false}},
            "detail": {"field": "series"}
          }
        }
      ],
      "resolve": {"axis": {"x": "independent", "y": "independent"}}
    }
  ]
}
